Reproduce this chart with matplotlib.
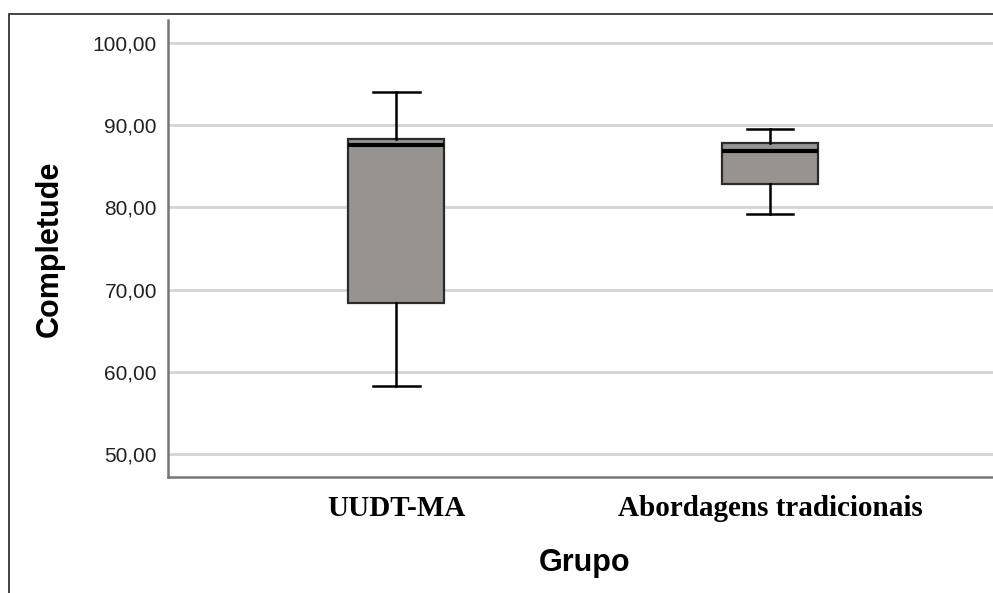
import matplotlib
matplotlib.use("Agg")
import matplotlib.pyplot as plt
from matplotlib.patches import Rectangle

# dados (boxplot SPSS)
grupos = ["UUDT-MA", "Abordagens tradicionais"]
whisker_low = [58.3, 79.2]
q1 = [68.4, 82.8]
mediana = [87.6, 86.9]
q3 = [88.3, 87.8]
whisker_high = [94.0, 89.5]

yticks = [50, 60, 70, 80, 90, 100]
ytick_labels = ["50,00", "60,00", "70,00", "80,00", "90,00", "100,00"]

stats = []
for i in range(len(grupos)):
    stats.append({
        "whislo": whisker_low[i], "q1": q1[i], "med": mediana[i],
        "q3": q3[i], "whishi": whisker_high[i], "fliers": [],
    })

fig = plt.figure(figsize=(9.93, 5.93), dpi=100)
ax = fig.add_axes([168 / 993, 1 - 477 / 593, 1 - 168 / 993, (477 - 20) / 593])

# moldura externa do gráfico
fig.patches.append(Rectangle((8.5 / 993, -0.1), 1.2, 1 - 14 / 593 + 0.1,
                             transform=fig.transFigure, fill=False,
                             edgecolor="#333333", linewidth=1.3))

ax.bxp(stats, positions=[1, 2], widths=0.255, patch_artist=True,
       boxprops=dict(facecolor="#979391", edgecolor="#2b2b2b", linewidth=1.6),
       medianprops=dict(color="black", linewidth=3),
       whiskerprops=dict(color="black", linewidth=1.8),
       capprops=dict(color="black", linewidth=1.8),
       capwidths=0.125, zorder=3)

ax.set_xlim(0.39, 2.596)
ax.set_ylim(47.2, 102.8)
ax.set_yticks(yticks)
ax.set_yticklabels(ytick_labels, fontsize=15, family="Liberation Sans", color="#222222")
ax.set_xticks([1, 2])
ax.set_xticklabels(grupos, fontsize=21, family="Liberation Serif", fontweight="bold")
ax.tick_params(axis="both", length=0)
ax.tick_params(axis="y", pad=8)
ax.tick_params(axis="x", pad=13)

ax.yaxis.grid(True, color="#d4d4d4", linewidth=2)
ax.set_axisbelow(True)
for s in ["top", "right"]:
    ax.spines[s].set_visible(False)
for s in ["left", "bottom"]:
    ax.spines[s].set_color("#777777")
    ax.spines[s].set_linewidth(1.8)

fig.text(50 / 993, 1 - 249 / 593, "Completude", rotation=90, ha="center", va="center",
         fontsize=22, fontweight="bold", family="Liberation Sans")
fig.text(585 / 993, 1 - 563 / 593, "Grupo", ha="center", va="center",
         fontsize=22, fontweight="bold", family="Liberation Sans")

fig.savefig("out.png", dpi=100)
